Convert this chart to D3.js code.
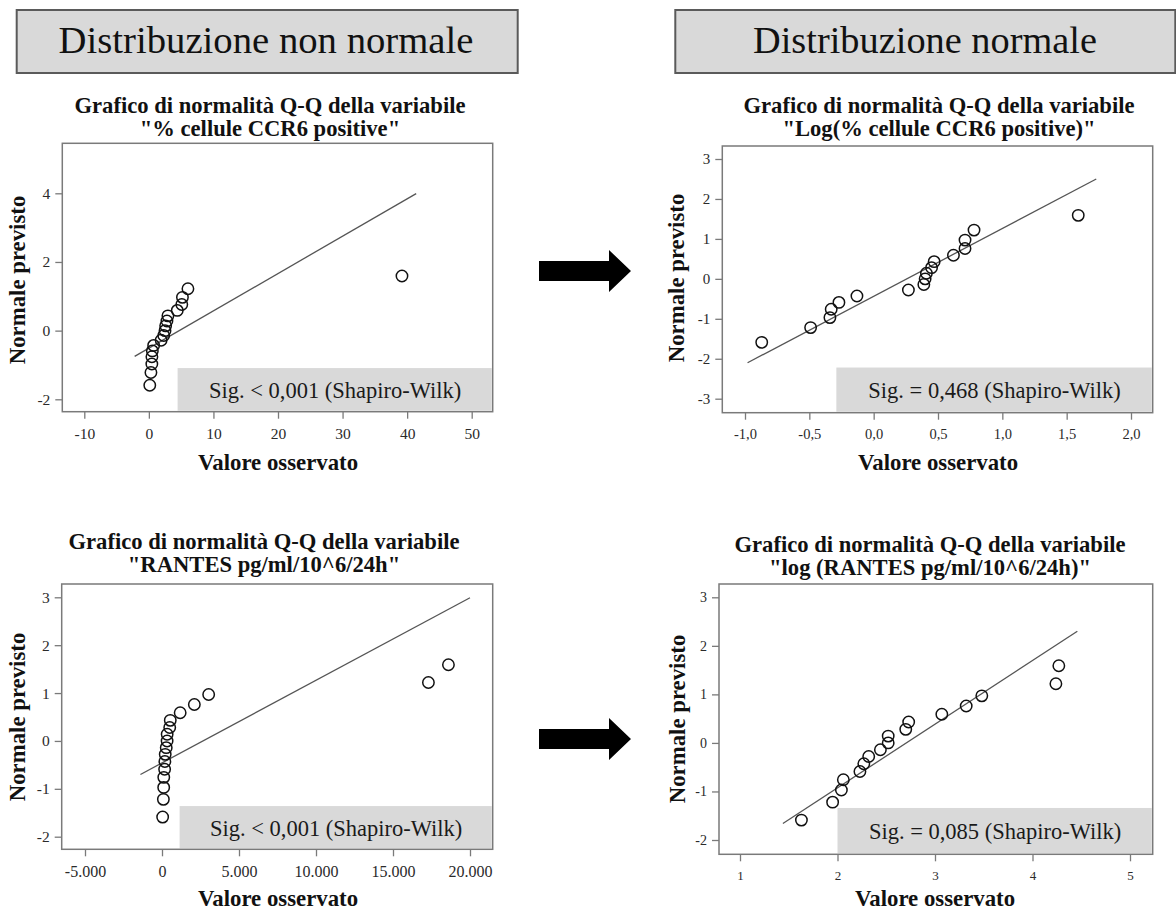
<!DOCTYPE html>
<meta charset="utf-8">
<style>
  body { margin: 0; background: #fff; }
  svg { display: block; }
  text { font-family: "Liberation Serif", "Times New Roman", serif; }
  .frame { fill: none; stroke: #7a7a7a; stroke-width: 1.5px; }
  .tick line { stroke: #7a7a7a; stroke-width: 1.3px; }
  .tick text { fill: #2a2a2a; }
  .title { font-weight: bold; font-size: 22.6px; fill: #111; text-anchor: middle; }
  .axtitle { font-weight: bold; font-size: 22.8px; fill: #111; text-anchor: middle; }
  .pt { fill: none; stroke: #111; stroke-width: 1.5px; }
  .fit { stroke: #555; stroke-width: 1.3px; }
  .sigbox { fill: #d9d9d9; }
  .sig { font-size: 22.5px; fill: #1a1a1a; text-anchor: middle; }
  .head rect { fill: #d9d9d9; stroke: #5a5a5a; stroke-width: 2px; }
  .head text { font-size: 38px; fill: #111; text-anchor: middle; }
</style>
<body>
<svg width="1176" height="911"></svg>
<script src="https://d3js.org/d3.v7.min.js"></script>
<script>
// expected normal values (same ranks in every plot)
const expected = [-1.59, -1.22, -0.97, -0.76, -0.59, -0.43, -0.28, -0.14, 0, 0.14, 0.28, 0.43, 0.59, 0.76, 0.97, 1.22, 1.59];

const ccr6 = [0.14, 0.32, 0.46, 0.47, 0.54, 0.74, 1.9, 2.3, 2.5, 2.6, 2.8, 2.95, 4.4, 5.1, 5.2, 6.05, 39.2];
const logCcr6 = [-0.87, -0.49, -0.34, -0.33, -0.27, -0.13, 0.27, 0.39, 0.40, 0.41, 0.45, 0.47, 0.62, 0.71, 0.71, 0.78, 1.59];
const rantes = [42, 89, 110, 115, 170, 186, 209, 275, 331, 335, 501, 537, 1180, 2100, 3030, 17300, 18600];
const logRantes = [1.63, 1.95, 2.04, 2.06, 2.23, 2.27, 2.32, 2.44, 2.52, 2.52, 2.70, 2.73, 3.07, 3.32, 3.48, 4.24, 4.27];

// reference lines (x ends, y ends)
const ccr6LineX = [-2.2, 41.4], ccr6LineY = [-0.75, 3.99];
const logCcr6LineX = [-0.98, 1.73], logCcr6LineY = [-2.1, 2.5];
const rantesLineX = [-1400, 20000], rantesLineY = [-0.70, 2.99];
const logRantesLineX = [1.44, 4.46], logRantesLineY = [-1.66, 2.30];

// tick values
const ccr6XTicks = [-10, 0, 10, 20, 30, 40, 50], ccr6YTicks = [-2, 0, 2, 4];
const logCcr6XTicks = [-1, -0.5, 0, 0.5, 1, 1.5, 2], logCcr6YTicks = [-3, -2, -1, 0, 1, 2, 3];
const rantesXTicks = [-5000, 0, 5000, 10000, 15000, 20000], rantesYTicks = [-2, -1, 0, 1, 2, 3];
const logRantesXTicks = [1, 2, 3, 4, 5], logRantesYTicks = [-2, -1, 0, 1, 2, 3];

const headers = ["Distribuzione non normale", "Distribuzione normale"];
const sigLabels = ["Sig. < 0,001 (Shapiro-Wilk)", "Sig. = 0,468 (Shapiro-Wilk)", "Sig. < 0,001 (Shapiro-Wilk)", "Sig. = 0,085 (Shapiro-Wilk)"];
const titleLine1 = "Grafico di normalità Q-Q della variabile";
const titleLine2 = ["\"% cellule CCR6 positive\"", "\"Log(% cellule CCR6 positive)\"", "\"RANTES pg/ml/10^6/24h\"", "\"log (RANTES pg/ml/10^6/24h)\""];

const it = d3.formatLocale({decimal: ",", thousands: ".", grouping: [3], currency: ["", "€"], minus: "-"});

const svg = d3.select("svg");

const panels = [
  {obs: ccr6, lx: ccr6LineX, ly: ccr6LineY, xt: ccr6XTicks, yt: ccr6YTicks, fmt: it.format("d"),
   xd: [-10, 50], xr: [84.3, 471.7], yd: [-2, 4], yr: [399.3, 193.3],
   frame: [62.3, 143.3, 492.7, 411.7], box: [4.45, -1.09], tx: 270, ty: 112.7, xtx: 278, xty: 470, ytx: 25, yty: 280, xs: 15.5, ys: 15.5},
  {obs: logCcr6, lx: logCcr6LineX, ly: logCcr6LineY, xt: logCcr6XTicks, yt: logCcr6YTicks, fmt: it.format(".1f"),
   xd: [-1, 2], xr: [745, 1131], yd: [-3, 3], yr: [398.7, 159],
   frame: [722.3, 146, 1152.7, 412.7], box: [-0.29, -2.22], tx: 939, ty: 113.3, xtx: 938, xty: 470, ytx: 684, yty: 278, xs: 14.5, ys: 15},
  {obs: rantes, lx: rantesLineX, ly: rantesLineY, xt: rantesXTicks, yt: rantesYTicks, fmt: it.format(",d"),
   xd: [-5000, 20000], xr: [85, 470], yd: [-2, 3], yr: [836.7, 597.3],
   frame: [61.7, 584, 492.7, 849.3], box: [1143, -1.36], tx: 264, ty: 549, xtx: 278, xty: 906, ytx: 25, yty: 717, xs: 16, ys: 15.5},
  {obs: logRantes, lx: logRantesLineX, ly: logRantesLineY, xt: logRantesXTicks, yt: logRantesYTicks, fmt: it.format("d"),
   xd: [1, 5], xr: [740, 1130], yd: [-2, 3], yr: [840, 597.3],
   frame: [719, 584, 1152.7, 854.3], box: [2.0, -1.34], tx: 930, ty: 551.7, xtx: 935, xty: 906, ytx: 685, yty: 719, xs: 13, ys: 14}
];

// header boxes
const heads = svg.selectAll("g.head").data(headers).join("g").attr("class", "head");
heads.append("rect")
  .attr("x", (d, i) => i ? 675.3 : 16.7).attr("y", 10)
  .attr("width", (d, i) => i ? 500 : 501).attr("height", 63);
heads.append("text")
  .attr("x", (d, i) => i ? 925 : 266).attr("y", 53)
  .attr("textLength", (d, i) => i ? 344 : 415)
  .attr("lengthAdjust", "spacingAndGlyphs")
  .text(d => d);

// arrows
[271, 739].forEach(cy => {
  svg.append("path")
    .attr("d", `M539,${cy - 10} H609 V${cy - 21} L631,${cy} L609,${cy + 21} V${cy + 10} H539 Z`)
    .attr("fill", "#000");
});

panels.forEach((p, i) => {
  const g = svg.append("g");
  const x = d3.scaleLinear().domain(p.xd).range(p.xr);
  const y = d3.scaleLinear().domain(p.yd).range(p.yr);
  const [L, T, R, B] = p.frame;

  g.append("text").attr("class", "title").attr("x", p.tx).attr("y", p.ty).text(titleLine1);
  g.append("text").attr("class", "title").attr("x", p.tx).attr("y", p.ty + 23).text(titleLine2[i]);

  // significance box
  g.append("rect").attr("class", "sigbox")
    .attr("x", x(p.box[0])).attr("y", y(p.box[1]))
    .attr("width", R - 1 - x(p.box[0])).attr("height", B - 1 - y(p.box[1]));
  g.append("text").attr("class", "sig")
    .attr("x", (x(p.box[0]) + R) / 2)
    .attr("y", (y(p.box[1]) + B) / 2 + 8)
    .text(sigLabels[i]);

  g.append("rect").attr("class", "frame").attr("x", L).attr("y", T).attr("width", R - L).attr("height", B - T);

  const xa = g.append("g").attr("transform", `translate(0,${B})`)
    .call(d3.axisBottom(x).tickValues(p.xt).tickFormat(p.fmt).tickSize(7).tickPadding(9));
  const ya = g.append("g").attr("transform", `translate(${L},0)`)
    .call(d3.axisLeft(y).tickValues(p.yt).tickFormat(it.format("d")).tickSize(7).tickPadding(5));
  xa.select(".domain").remove();
  ya.select(".domain").remove();
  xa.selectAll("text").attr("font-family", null).style("font-size", p.xs + "px");
  ya.selectAll("text").attr("font-family", null).style("font-size", p.ys + "px");

  g.append("line").attr("class", "fit")
    .attr("x1", x(p.lx[0])).attr("y1", y(p.ly[0]))
    .attr("x2", x(p.lx[1])).attr("y2", y(p.ly[1]));

  g.selectAll("circle").data(p.obs).join("circle").attr("class", "pt")
    .attr("cx", d => x(d)).attr("cy", (d, k) => y(expected[k])).attr("r", 5.7);

  g.append("text").attr("class", "axtitle").attr("x", p.xtx).attr("y", p.xty).text("Valore osservato");
  g.append("text").attr("class", "axtitle")
    .attr("transform", `translate(${p.ytx},${p.yty}) rotate(-90)`).text("Normale previsto");
});
</script>
</body>
